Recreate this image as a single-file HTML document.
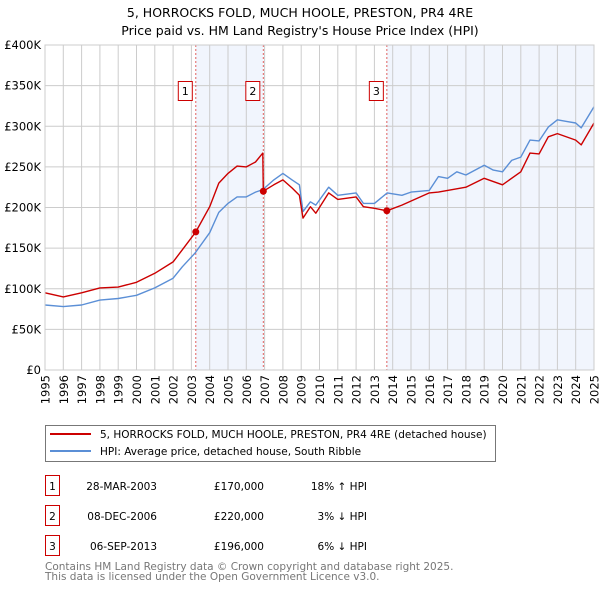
<!DOCTYPE html>
<html><head><meta charset="utf-8"><style>
body{margin:0;background:#fff;}
svg{display:block;font-family:"DejaVu Sans","Liberation Sans",sans-serif;}
</style></head><body>
<svg id="c" width="600" height="590" viewBox="0 0 600 590">
<text x="300" y="17" text-anchor="middle" font-size="12.5" fill="#000">5, HORROCKS FOLD, MUCH HOOLE, PRESTON, PR4 4RE</text>
<text x="300" y="35" text-anchor="middle" font-size="12.5" fill="#000">Price paid vs. HM Land Registry's House Price Index (HPI)</text>
<g id="plot"></g>
<g>
<rect x="45.5" y="425.5" width="450" height="36" fill="#fff" stroke="#777"/>
<line x1="50" y1="434" x2="91" y2="434" stroke="#cc0000" stroke-width="2"/>
<text x="100" y="438" font-size="10.5">5, HORROCKS FOLD, MUCH HOOLE, PRESTON, PR4 4RE (detached house)</text>
<line x1="50" y1="451" x2="91" y2="451" stroke="#5b8fd6" stroke-width="2"/>
<text x="100" y="455" font-size="10.5">HPI: Average price, detached house, South Ribble</text>
</g>
<g font-size="10.5">
<rect x="45.5" y="475.5" width="14" height="20" fill="#fff" stroke="#cc0000"/><text x="52.5" y="490" text-anchor="middle">1</text>
<text x="157" y="490" text-anchor="end">28-MAR-2003</text><text x="264" y="490" text-anchor="end">£170,000</text><text x="367" y="490" text-anchor="end">18% ↑ HPI</text>
<rect x="45.5" y="505.5" width="14" height="20" fill="#fff" stroke="#cc0000"/><text x="52.5" y="520" text-anchor="middle">2</text>
<text x="157" y="520" text-anchor="end">08-DEC-2006</text><text x="264" y="520" text-anchor="end">£220,000</text><text x="367" y="520" text-anchor="end">3% ↓ HPI</text>
<rect x="45.5" y="535.5" width="14" height="20" fill="#fff" stroke="#cc0000"/><text x="52.5" y="550" text-anchor="middle">3</text>
<text x="157" y="550" text-anchor="end">06-SEP-2013</text><text x="264" y="550" text-anchor="end">£196,000</text><text x="367" y="550" text-anchor="end">6% ↓ HPI</text>
</g>
<text x="45" y="570" font-size="10.5" fill="#777">Contains HM Land Registry data © Crown copyright and database right 2025.</text>
<text x="45" y="580" font-size="10.5" fill="#777">This data is licensed under the Open Government Licence v3.0.</text>
</svg>
<script>
const years=[1995,1996,1997,1998,1999,2000,2001,2002,2003,2004,2005,2006,2007,2008,2009,2010,2011,2012,2013,2014,2015,2016,2017,2018,2019,2020,2021,2022,2023,2024,2025];
const yTicks=[0,50000,100000,150000,200000,250000,300000,350000,400000];
const yTickLabels=["£0","£50K","£100K","£150K","£200K","£250K","£300K","£350K","£400K"];
const hpiDates=[1995,1996,1997,1998,1999,2000,2001,2002,2002.5,2003.2,2004,2004.5,2005,2005.5,2006,2006.5,2006.9,2007.5,2008,2008.5,2008.9,2009.1,2009.5,2009.8,2010.5,2011,2012,2012.4,2013,2013.7,2014.5,2015,2016,2016.5,2017,2017.5,2018,2019,2019.5,2020,2020.5,2021,2021.5,2022,2022.5,2023,2023.5,2024,2024.3,2025];
const hpiValues=[80000,78000,80000,86000,88000,92000,101000,113000,127000,144000,169000,194000,205000,213000,213000,219000,222000,234000,242000,234000,228000,195000,207000,203000,225000,215000,218000,205000,205000,218000,215000,219000,221000,238000,236000,244000,240000,252000,246000,244000,258000,262000,283000,282000,299000,308000,306000,304000,298000,324000];
const priceDates=[1995,1996,1997,1998,1999,2000,2001,2002,2002.5,2003.24,2004,2004.5,2005,2005.5,2006,2006.5,2006.9,2006.93,2007.5,2008,2008.5,2008.9,2009.1,2009.5,2009.8,2010.5,2011,2012,2012.4,2013,2013.68,2014.5,2016,2016.5,2018,2019,2020,2021,2021.5,2022,2022.5,2023,2024,2024.3,2025];
const priceValues=[95000,90000,95000,101000,102000,108000,119000,133000,148000,170000,201000,230000,242000,251000,250000,256000,267000,220000,228000,234000,224000,215000,187000,201000,193000,218000,210000,213000,201000,199000,196000,203000,218000,219000,225000,236000,228000,244000,267000,266000,287000,291000,283000,277000,304000];
const sales=[{n:"1",t:2003.24,v:170000},{n:"2",t:2006.93,v:220000},{n:"3",t:2013.68,v:196000}];
const NS="http://www.w3.org/2000/svg";
const X0=45,X1=594,Y0=370,Y1=45;
function xs(t){return X0+(t-1995)/(2025-1995)*(X1-X0);}
function ys(v){return Y0-v/400000*(Y0-Y1);}
const g=document.getElementById('plot');
function mk(tag,a,p){const e=document.createElementNS(NS,tag);for(const k in a)e.setAttribute(k,a[k]);(p||g).appendChild(e);return e;}
let s1=mk('rect',{x:xs(sales[0].t),y:Y1,width:xs(sales[1].t)-xs(sales[0].t),height:Y0-Y1,fill:'#eef3fc',opacity:0.8});


let s2=mk('rect',{x:xs(sales[2].t),y:Y1,width:X1-xs(sales[2].t),height:Y0-Y1,fill:'#eef3fc',opacity:0.8});


yTicks.forEach((v,i)=>{
  let l=mk('line',{x1:X0,x2:X1,y1:ys(v),y2:ys(v),stroke:'#cccccc'});
  
  
  let t=mk('text',{x:X0-4,y:ys(v)+4,'text-anchor':'end','font-size':'11.5'});t.textContent=yTickLabels[i];
  
  
});
years.forEach(yr=>{
  let l=mk('line',{x1:xs(yr),x2:xs(yr),y1:Y1,y2:Y0,stroke:'#cccccc'});
  
  
  const tx=xs(yr)+4.5,ty=Y0+5;
  let t=mk('text',{x:tx,y:ty,'text-anchor':'end','font-size':'11.5',transform:'rotate(-90 '+tx+' '+ty+')'});t.textContent=yr;
  
  
});
sales.forEach(s=>{
  let l=mk('line',{x1:xs(s.t),x2:xs(s.t),y1:Y1,y2:Y0,stroke:'#e06060','stroke-dasharray':'2,2'});
  
  
});
function path(d,v,c,name){
  let p=mk('path',{d:d.map((t,i)=>(i?'L':'M')+xs(t).toFixed(1)+','+ys(v[i]).toFixed(1)).join(''),fill:'none',stroke:c,'stroke-width':1.4,'stroke-linejoin':'round'});
  
  
}
path(hpiDates,hpiValues,'#5b8fd6','hpi-line');
path(priceDates,priceValues,'#cc0000','price-paid-line');
sales.forEach(s=>{
  let c=mk('circle',{cx:xs(s.t),cy:ys(s.v),r:3.5,fill:'#cc0000'});
  
  
  let r=mk('rect',{x:xs(s.t)-17.5,y:81.5,width:14,height:19,fill:'#fff',stroke:'#cc0000'});
  
  
  let t=mk('text',{x:xs(s.t)-10.5,y:95,'text-anchor':'middle','font-size':'11'});t.textContent=s.n;
  
  
});
let fr=mk('rect',{x:X0,y:Y1,width:X1-X0,height:Y0-Y1,fill:'none',stroke:'#cccccc'});


</script>
</body></html>
